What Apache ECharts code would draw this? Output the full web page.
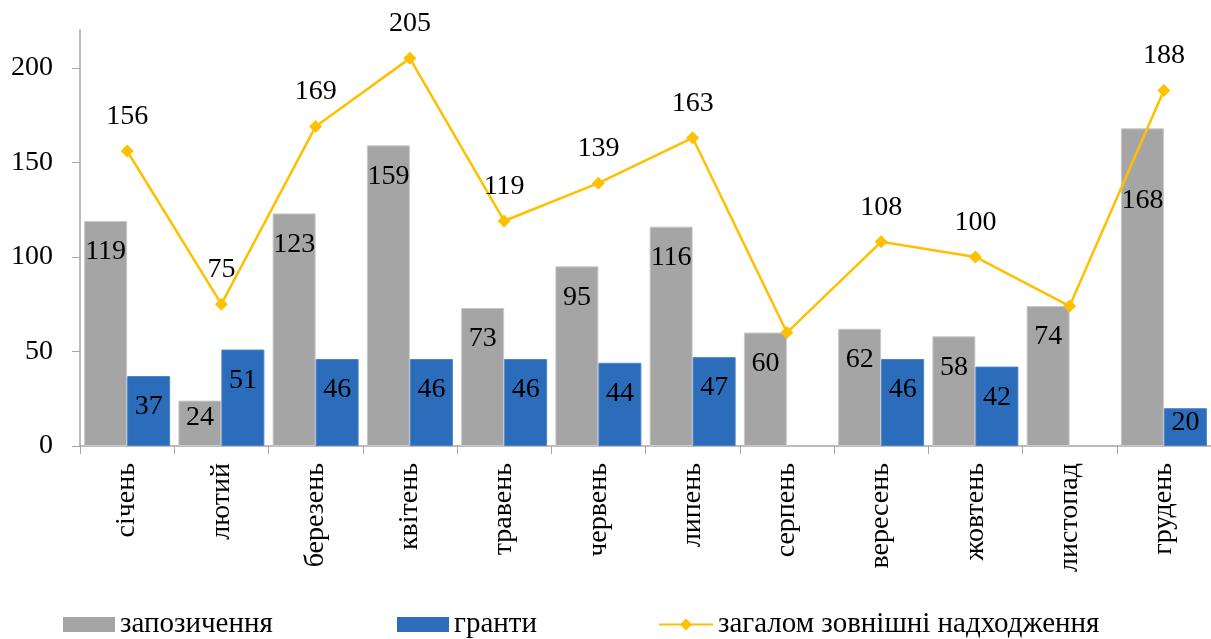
<!DOCTYPE html>
<html>
<head>
<meta charset="utf-8">
<script src="https://cdn.jsdelivr.net/npm/echarts@6/dist/echarts.min.js"></script>
<style>
  html, body { margin: 0; padding: 0; background: #fff; }
  #chart { width: 1211px; height: 639px; }
</style>
</head>
<body>
<div id="chart"></div>
<script>
  // дані, зчитані з діаграми
  const months = ['січень', 'лютий', 'березень', 'квітень', 'травень', 'червень',
    'липень', 'серпень', 'вересень', 'жовтень', 'листопад', 'грудень']
  const borrowings = [119, 24, 123, 159, 73, 95, 116, 60, 62, 58, 74, 168]
  const grants = [37, 51, 46, 46, 46, 44, 47, null, 46, 42, null, 20]
  const totalIncome = [156, 75, 169, 205, 119, 139, 163, 60, 108, 100, 74, 188]
  const yTicks = [0, 50, 100, 150, 200]

  const seriesNames = ['запозичення', 'гранти', 'загалом зовнішні надходження']

  const font = "Liberation Serif, Times New Roman, serif"
  const fs = 28
  const axisColor = '#a6a6a6'

  // підписи, які в оригіналі зсунуті вручну
  const borrowLabelShift = { 1: 3, 11: 58 }
  const grantLabelShift = { 11: 0 }
  const hiddenTotalLabels = [7, 10]

  const chartDom = document.getElementById('chart')
  const myChart = echarts.init(chartDom)

  const barLabel = {
    show: true,
    position: 'insideTop',
    distance: 17,
    color: '#000',
    fontFamily: font,
    fontSize: fs
  }
  const legendText = { fontFamily: font, fontSize: 29, color: '#000' }

  let option = {
    backgroundColor: '#fff',
    animation: false,
    textStyle: { fontFamily: font },
    grid: { left: 80, right: -4, top: 30, bottom: 193 },
    legend: [
      {
        data: [{ name: seriesNames[0], icon: 'rect', itemStyle: { borderWidth: 0 } }],
        left: 58, top: 605,
        itemWidth: 52, itemHeight: 15,
        textStyle: legendText
      },
      {
        data: [{ name: seriesNames[1], icon: 'rect', itemStyle: { borderWidth: 0 } }],
        left: 392, top: 605,
        itemWidth: 52, itemHeight: 15,
        textStyle: legendText
      },
      {
        data: [seriesNames[2]],
        left: 653, top: 605,
        itemWidth: 54, itemHeight: 15,
        textStyle: legendText
      }
    ],
    xAxis: {
      type: 'category',
      data: months,
      axisLine: { lineStyle: { color: axisColor, width: 1.5 } },
      axisTick: { show: true, length: 8, lineStyle: { color: axisColor } },
      axisLabel: {
        rotate: 90,
        margin: 17,
        color: '#000',
        fontFamily: font,
        fontSize: fs
      }
    },
    yAxis: {
      type: 'value',
      min: 0,
      max: 220,
      interval: 50,
      splitLine: { show: false },
      axisLine: { show: true, lineStyle: { color: axisColor, width: 1.5 } },
      axisTick: { show: true, length: 8, customValues: yTicks, lineStyle: { color: axisColor } },
      axisLabel: {
        customValues: yTicks,
        margin: 27,
        color: '#000',
        fontFamily: font,
        fontSize: fs
      }
    },
    series: [
      {
        name: seriesNames[0],
        type: 'bar',
        barWidth: 43,
        barGap: '0%',
        itemStyle: { color: '#a5a5a5', borderColor: '#c8c8c8', borderWidth: 1 },
        label: barLabel,
        data: borrowings.map((v, i) => borrowLabelShift[i] !== undefined
          ? { value: v, label: { distance: borrowLabelShift[i] } } : v)
      },
      {
        name: seriesNames[1],
        type: 'bar',
        barWidth: 43,
        barGap: '0%',
        itemStyle: { color: '#2b6cbb', borderColor: '#4a84c8', borderWidth: 1 },
        label: barLabel,
        data: grants.map((v, i) => grantLabelShift[i] !== undefined
          ? { value: v, label: { distance: grantLabelShift[i] } } : v)
      },
      {
        name: seriesNames[2],
        type: 'line',
        symbol: 'diamond',
        symbolSize: 13,
        z: 5,
        lineStyle: { color: '#ffc000', width: 2.5 },
        itemStyle: { color: '#ffc000' },
        label: {
          show: true,
          position: 'top',
          distance: 14,
          color: '#000',
          fontFamily: font,
          fontSize: fs
        },
        data: totalIncome.map((v, i) => hiddenTotalLabels.includes(i)
          ? { value: v, label: { show: false } } : v)
      }
    ]
  }

  option && myChart.setOption(option)
</script>
</body>
</html>
